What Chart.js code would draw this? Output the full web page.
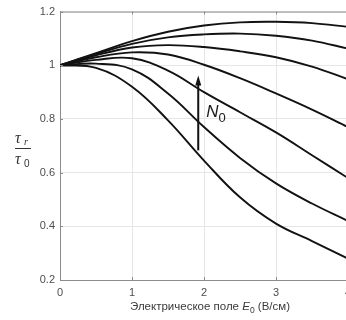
<!DOCTYPE html>
<html>
<head>
<meta charset="utf-8">
<script src="https://cdn.jsdelivr.net/npm/chart.js@4/dist/chart.umd.min.js"></script>
<style>
  html, body { margin: 0; padding: 0; background: #fff; overflow: hidden; }
  #wrap { width: 346px; height: 320px; overflow: hidden; }
  #box { width: 362px; height: 320px; position: relative; }
</style>
</head>
<body>
<div id="wrap"><div id="box"><canvas id="chart"></canvas></div></div>
<script>
// field values (V/cm) and the relative lifetime curves, top to bottom
var fieldE = [0, 0.5, 1, 1.5, 2, 2.5, 3, 3.5, 4];
var curve1 = [1, 1.045, 1.09, 1.125, 1.148, 1.16, 1.162, 1.157, 1.143];
var curve2 = [1, 1.042, 1.08, 1.104, 1.115, 1.118, 1.11, 1.092, 1.062];
var curve3 = [1, 1.037, 1.066, 1.075, 1.068, 1.052, 1.03, 0.995, 0.948];
var curve4 = [1, 1.03, 1.048, 1.04, 1.002, 0.952, 0.895, 0.835, 0.77];
var curve5 = [1, 1.02, 1.026, 0.98, 0.9, 0.825, 0.75, 0.665, 0.58];
var curve6 = [1, 1.006, 0.985, 0.895, 0.77, 0.655, 0.56, 0.485, 0.42];
var curve7 = [1, 0.99, 0.92, 0.795, 0.645, 0.508, 0.41, 0.345, 0.28];

var xTicks = [0, 1, 2, 3, 4];
var yTicks = [0.2, 0.4, 0.6, 0.8, 1, 1.2];

// arrow showing growth of N0
var arrowE = 1.92;
var arrowFrom = 0.683;
var arrowTo = 0.962;

var allCurves = [curve1, curve2, curve3, curve4, curve5, curve6, curve7];

function toPoints(vals) {
  var pts = [];
  for (var i = 0; i < fieldE.length; i++) {
    pts.push({ x: fieldE[i], y: vals[i] });
  }
  return pts;
}

var datasets = allCurves.map(function(c) {
  return {
    data: toPoints(c),
    borderColor: '#121212',
    borderWidth: 1.9,
    pointRadius: 0,
    fill: false,
    tension: 0.4
  };
});

var decor = {
  id: 'decor',
  afterDraw: function(chart) {
    var ctx = chart.ctx;
    var a = chart.chartArea;
    var xs = chart.scales.x, ys = chart.scales.y;
    ctx.save();

    // box top line
    ctx.strokeStyle = '#8c8c8c';
    ctx.lineWidth = 1;
    ctx.beginPath();
    ctx.moveTo(a.left, a.top + 0.5);
    ctx.lineTo(a.right, a.top + 0.5);
    ctx.stroke();

    // inward ticks
    xTicks.forEach(function(t) {
      var px = Math.round(xs.getPixelForValue(t)) + 0.5;
      ctx.beginPath();
      ctx.moveTo(px, a.bottom); ctx.lineTo(px, a.bottom - 3);
      ctx.moveTo(px, a.top); ctx.lineTo(px, a.top + 3);
      ctx.stroke();
    });
    yTicks.forEach(function(t) {
      var py = Math.round(ys.getPixelForValue(t)) + 0.5;
      ctx.beginPath();
      ctx.moveTo(a.left, py); ctx.lineTo(a.left + 3, py);
      ctx.stroke();
    });

    // arrow
    var ax = xs.getPixelForValue(arrowE);
    var y0 = ys.getPixelForValue(arrowFrom);
    var y1 = ys.getPixelForValue(arrowTo);
    ctx.strokeStyle = '#111';
    ctx.fillStyle = '#111';
    ctx.lineWidth = 2;
    ctx.beginPath();
    ctx.moveTo(ax, y0); ctx.lineTo(ax, y1 + 8);
    ctx.stroke();
    ctx.beginPath();
    ctx.moveTo(ax, y1);
    ctx.lineTo(ax - 3, y1 + 10);
    ctx.lineTo(ax + 3, y1 + 10);
    ctx.closePath();
    ctx.fill();

    // N0 label
    ctx.fillStyle = '#1a1a1a';
    ctx.textBaseline = 'alphabetic';
    ctx.textAlign = 'left';
    ctx.font = 'italic 17px "Liberation Sans", Arial, sans-serif';
    var nx = ax + 8, ny = ys.getPixelForValue(0.806);
    ctx.fillText('N', nx, ny);
    var nw = ctx.measureText('N').width;
    ctx.font = '13px "Liberation Sans", Arial, sans-serif';
    ctx.fillText('0', nx + nw, ny + 5);

    // y title as fraction tau_r / tau_0
    ctx.fillStyle = '#333';
    ctx.font = 'italic 16px "Liberation Serif", serif';
    ctx.fillText('\u03c4', 15, 143);
    ctx.fillText('\u03c4', 15, 164);
    ctx.font = 'italic 10px "Liberation Serif", serif';
    ctx.fillText('r', 24, 145);
    ctx.font = '10px "Liberation Sans", Arial, sans-serif';
    ctx.fillText('0', 24, 167);
    ctx.strokeStyle = '#333';
    ctx.lineWidth = 1;
    ctx.beginPath();
    ctx.moveTo(15, 148.5); ctx.lineTo(31, 148.5);
    ctx.stroke();

    // x title
    var p1 = '\u042d\u043b\u0435\u043a\u0442\u0440\u0438\u0447\u0435\u0441\u043a\u043e\u0435 \u043f\u043e\u043b\u0435 ';
    var p3 = ' (\u0412/\u0441\u043c)';
    var f1 = '11.5px "Liberation Sans", Arial, sans-serif';
    var f2 = 'italic 11.5px "Liberation Sans", Arial, sans-serif';
    var f3 = '8.5px "Liberation Sans", Arial, sans-serif';
    ctx.font = f1; var w1 = ctx.measureText(p1).width; var w3 = ctx.measureText(p3).width;
    ctx.font = f2; var w2 = ctx.measureText('E').width;
    ctx.font = f3; var ws = ctx.measureText('0').width;
    var total = w1 + w2 + ws + w3;
    var sx = 210 - total / 2, by = 310;
    ctx.fillStyle = '#3a3a3a';
    ctx.font = f1; ctx.fillText(p1, sx, by);
    ctx.font = f2; ctx.fillText('E', sx + w1, by);
    ctx.font = f3; ctx.fillText('0', sx + w1 + w2, by + 3);
    ctx.font = f1; ctx.fillText(p3, sx + w1 + w2 + ws, by);

    ctx.restore();
  }
};

function fmt(v) {
  return String(Math.round(v * 10) / 10);
}

new Chart(document.getElementById('chart'), {
  type: 'line',
  data: { datasets: datasets },
  options: {
    responsive: true,
    maintainAspectRatio: false,
    animation: false,
    devicePixelRatio: 1,
    layout: { padding: { top: 11, right: 14, left: 0, bottom: 0 } },
    plugins: { legend: { display: false }, tooltip: { enabled: false } },
    scales: {
      x: {
        type: 'linear',
        min: 0, max: 4,
        afterBuildTicks: function(s) { s.ticks = xTicks.map(function(v) { return { value: v }; }); },
        afterFit: function(s) { s.height = 40; },
        grid: { color: '#e6e6e6', drawTicks: false },
        border: { color: '#8c8c8c', width: 1 },
        ticks: {
          padding: 6, color: '#4d4d4d', maxRotation: 0,
          font: { family: '"Liberation Sans", Arial, sans-serif', size: 11 },
          callback: function(v) { return fmt(v); }
        }
      },
      y: {
        type: 'linear',
        min: 0.2, max: 1.2,
        afterBuildTicks: function(s) { s.ticks = yTicks.map(function(v) { return { value: v }; }); },
        afterFit: function(s) { s.width = 60; },
        grid: { color: '#e6e6e6', drawTicks: false },
        border: { color: '#8c8c8c', width: 1 },
        ticks: {
          padding: 5, color: '#4d4d4d',
          font: { family: '"Liberation Sans", Arial, sans-serif', size: 11 },
          callback: function(v) { return fmt(v); }
        }
      }
    }
  },
  plugins: [decor]
});
</script>
</body>
</html>
